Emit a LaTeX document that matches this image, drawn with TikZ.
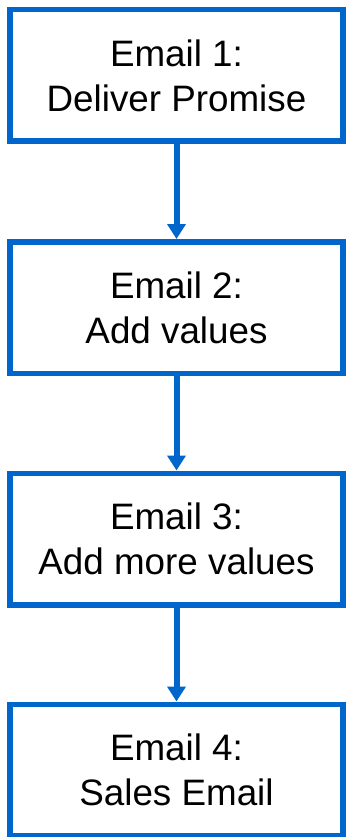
\documentclass[tikz,border=0pt]{standalone}
\usepackage{fontspec}
\setmainfont{Liberation Sans}
\usetikzlibrary{arrows.meta}
\definecolor{flowblue}{RGB}{0,102,204}
\tikzset{
  emailbox/.style={draw=flowblue, line width=5.5pt, fill=white, minimum width=333pt, minimum height=131.5pt, inner sep=0pt, align=center, font=\fontsize{36.8}{45}\selectfont},
  flowarrow/.style={draw=flowblue, line width=6pt, -{Triangle[width=18pt,length=15pt]}}
}
\begin{document}
\begin{tikzpicture}[x=1pt,y=1pt]
\useasboundingbox (0,0) rectangle (345,-837);
\node[emailbox] (e1) at (176.5,-75.5) {Email 1:\\Deliver Promise};
\node[emailbox] (e2) at (176.5,-307.5) {Email 2:\\Add values};
\node[emailbox] (e3) at (176.5,-539) {Email 3:\\Add more values};
\node[emailbox] (e4) at (176.5,-770) {Email 4:\\Sales Email};
\draw[flowarrow] (e1.south) -- (e2.north);
\draw[flowarrow] (e2.south) -- (e3.north);
\draw[flowarrow] (e3.south) -- (e4.north);
\end{tikzpicture}
\end{document}
